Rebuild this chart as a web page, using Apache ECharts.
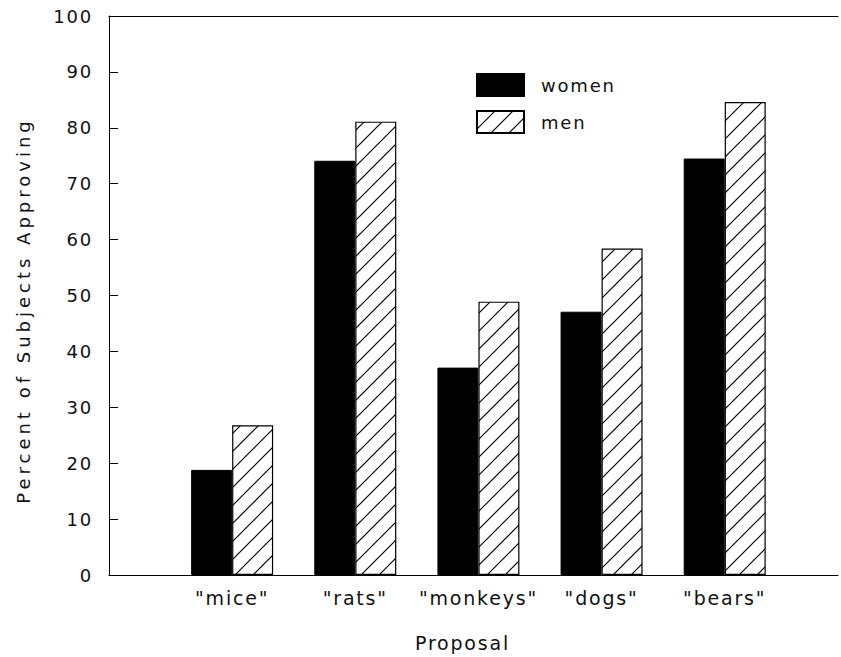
<!DOCTYPE html>
<html>
<head>
<meta charset="utf-8">
<script src="https://cdn.jsdelivr.net/npm/echarts@6/dist/echarts.min.js"></script>
<style>
  html, body { margin: 0; padding: 0; background: #fff; }
  #chart { width: 841px; height: 657px; }
  #chart text { letter-spacing: 1.8px; }
</style>
</head>
<body>
<div id="chart"></div>
<script>
// ---- data ----
const categories = ['"mice"', '"rats"', '"monkeys"', '"dogs"', '"bears"'];
const women = [18.8, 74.1, 37.1, 47.1, 74.5];
const men = [26.8, 81.1, 48.9, 58.4, 84.6];
const seriesNames = ['women', 'men'];
const yTickLabels = ['0', '10', '20', '30', '40', '50', '60', '70', '80', '90', '100'];
const yTitle = 'Percent of Subjects Approving';
const xTitle = 'Proposal';

// ---- hatch pattern ----
const tile = 18;
const cv = document.createElement('canvas');
cv.width = tile; cv.height = tile;
const cx = cv.getContext('2d');
cx.fillStyle = '#fff';
cx.fillRect(0, 0, tile, tile);
cx.strokeStyle = '#000';
cx.lineWidth = 1.2;
cx.beginPath();
cx.moveTo(-2, tile + 2); cx.lineTo(tile + 2, -2);
cx.moveTo(-2, 2); cx.lineTo(2, -2);
cx.moveTo(tile - 2, tile + 2); cx.lineTo(tile + 2, tile - 2);
cx.stroke();
const hatch = { image: cv, repeat: 'repeat', imageWidth: tile, imageHeight: tile };

const chart = echarts.init(document.getElementById('chart'), null, { renderer: 'svg' });
const font = 'DejaVu Sans';
const xMax = 5.92;

chart.on('finished', function () {
  document.querySelectorAll('#chart text').forEach(function (t) {
    if (t.textContent === yTitle) t.style.letterSpacing = '4px';
  });
});

chart.setOption({
  animation: false,
  backgroundColor: '#fff',
  textStyle: { fontFamily: font, color: '#111' },
  grid: { left: 109, right: 1, top: 16, bottom: 81 },
  legend: {
    orient: 'vertical',
    left: 476,
    top: 73,
    padding: 0,
    itemWidth: 47,
    itemHeight: 22,
    itemGap: 13,
    icon: 'rect',
    data: seriesNames,
    textStyle: { fontFamily: font, fontSize: 18, color: '#111', padding: [0, 0, 0, 12] }
  },
  xAxis: [{
    type: 'value',
    position: 'bottom',
    min: 0,
    max: xMax,
    interval: 1,
    axisLine: { show: true, lineStyle: { color: '#000', width: 1 } },
    axisTick: { show: false },
    splitLine: { show: false },
    axisLabel: {
      fontFamily: font, fontSize: 19, color: '#111', margin: 13,
      formatter: function (v) {
        const i = Math.round(v);
        return (Math.abs(v - i) < 1e-6 && i >= 1 && i <= categories.length) ? categories[i - 1] : '';
      }
    },
    name: xTitle,
    nameLocation: 'middle',
    nameGap: 58,
    nameTextStyle: { fontFamily: font, fontSize: 19, color: '#111', padding: [0, 22, 0, 0] }
  }, {
    type: 'value',
    position: 'top',
    min: 0,
    max: xMax,
    interval: 1,
    axisLine: { show: true, lineStyle: { color: '#000', width: 1 } },
    axisTick: { show: false },
    axisLabel: { show: false },
    splitLine: { show: false }
  }],
  yAxis: {
    type: 'value',
    min: 0,
    max: 100,
    interval: 10,
    axisLine: { show: true, lineStyle: { color: '#000', width: 1 } },
    axisTick: { show: true, inside: true, length: 9, lineStyle: { color: '#000' } },
    splitLine: { show: false },
    axisLabel: {
      fontFamily: font, fontSize: 18, color: '#111', margin: 16,
      formatter: function (v) { return yTickLabels[Math.round(v / 10)]; }
    },
    name: yTitle,
    nameLocation: 'middle',
    nameGap: 77,
    nameTextStyle: { fontFamily: font, fontSize: 18, color: '#111', padding: [0, 30, 0, 0] }
  },
  series: [{
    name: seriesNames[0],
    type: 'bar',
    xAxisIndex: 0,
    barWidth: 41,
    barGap: '0%',
    itemStyle: { color: '#000', borderColor: '#000', borderWidth: 1 },
    data: women.map((v, i) => [i + 1, v])
  }, {
    name: seriesNames[1],
    type: 'bar',
    xAxisIndex: 0,
    barWidth: 41,
    barGap: '0%',
    itemStyle: { color: hatch, borderColor: '#000', borderWidth: 1.2 },
    data: men.map((v, i) => [i + 1, v])
  }]
});
</script>
</body>
</html>
